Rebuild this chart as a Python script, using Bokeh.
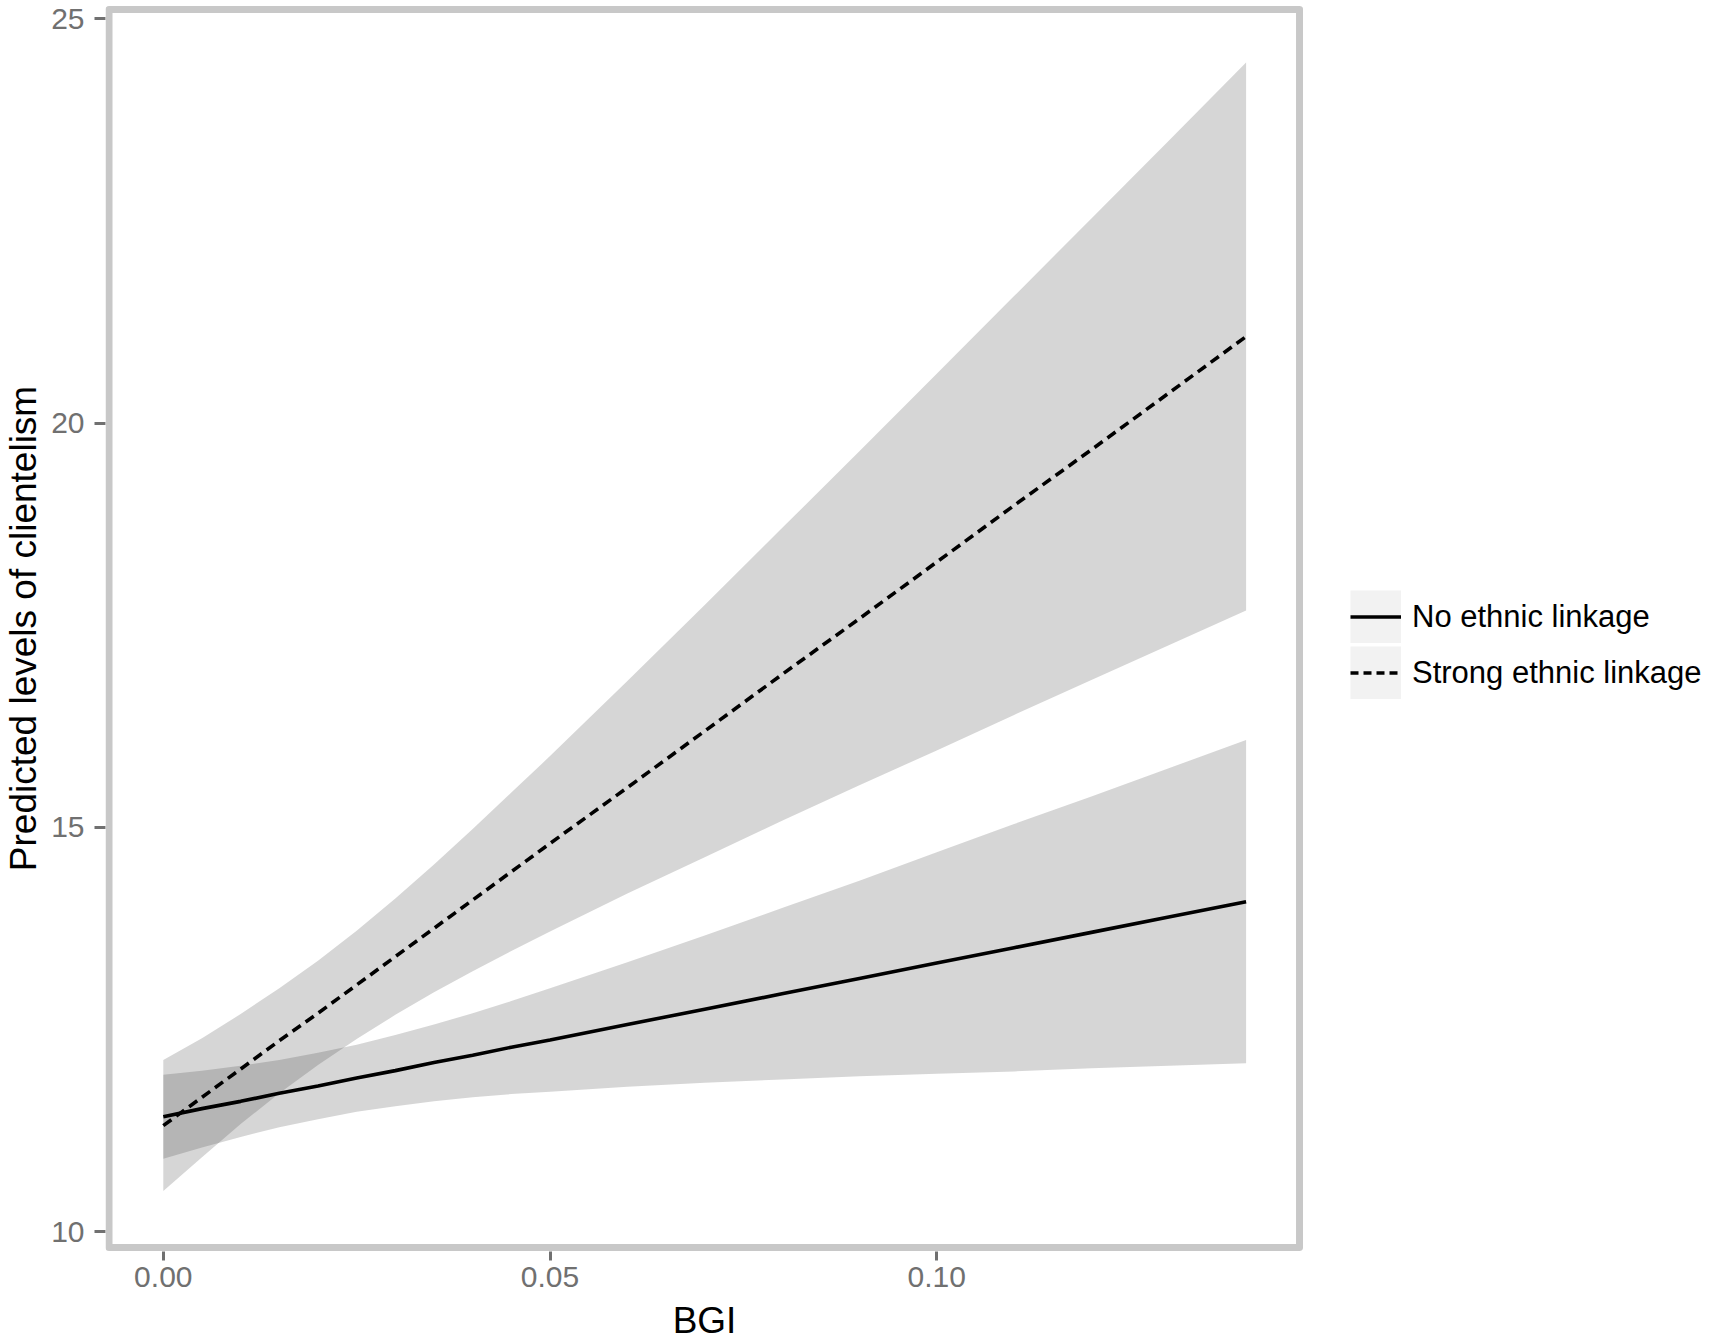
import numpy as np
from bokeh.plotting import figure
from bokeh.layouts import row
from bokeh.models import (Range1d, FixedTicker, NumeralTickFormatter, Legend,
                          LegendItem, ColumnDataSource, BoxAnnotation)
from bokeh.embed import file_html
from bokeh.resources import INLINE

# ---- data ----
bgi = [0.000, 0.005, 0.010, 0.015, 0.020, 0.025, 0.030, 0.035, 0.040, 0.045,
       0.050, 0.060, 0.070, 0.080, 0.090, 0.100, 0.110, 0.120, 0.130, 0.140]

none_fit = [11.42, 11.52, 11.61, 11.71, 11.80, 11.90, 11.99, 12.09, 12.18, 12.28,
            12.37, 12.56, 12.75, 12.94, 13.13, 13.32, 13.51, 13.70, 13.89, 14.08]
none_lo = [10.90, 11.04, 11.17, 11.29, 11.39, 11.48, 11.55, 11.61, 11.66, 11.70,
           11.73, 11.79, 11.84, 11.88, 11.92, 11.95, 11.98, 12.02, 12.05, 12.08]
none_hi = [11.94, 11.99, 12.05, 12.12, 12.21, 12.31, 12.43, 12.56, 12.70, 12.85,
           13.01, 13.33, 13.66, 14.00, 14.34, 14.69, 15.04, 15.38, 15.73, 16.08]

strong_fit = [11.31, 11.66, 12.01, 12.36, 12.70, 13.05, 13.40, 13.75, 14.10, 14.45,
              14.80, 15.49, 16.19, 16.89, 17.58, 18.28, 18.98, 19.67, 20.37, 21.07]
strong_lo = [10.50, 10.92, 11.33, 11.71, 12.06, 12.38, 12.68, 12.96, 13.22, 13.47,
             13.71, 14.18, 14.63, 15.08, 15.52, 15.95, 16.39, 16.82, 17.25, 17.68]
strong_hi = [12.12, 12.39, 12.69, 13.01, 13.35, 13.72, 14.12, 14.54, 14.98, 15.43,
             15.88, 16.81, 17.75, 18.70, 19.65, 20.61, 21.57, 22.53, 23.49, 24.46]

series_labels = ["No ethnic linkage", "Strong ethnic linkage"]
x_ticks = [0.00, 0.05, 0.10]
y_ticks = [10, 15, 20, 25]
x_title = "BGI"
y_title = "Predicted levels of clientelism"

# panel (ggplot-style expanded) limits, used for the panel border
panel_x = [-0.00702, 0.14691]
panel_y = [9.803, 25.115]

src = ColumnDataSource(dict(bgi=bgi, none_fit=none_fit, none_lo=none_lo, none_hi=none_hi,
                            strong_fit=strong_fit, strong_lo=strong_lo, strong_hi=strong_hi))

FONT = "Liberation Sans"
TICK_GREY = "#707070"
BORDER = "#c8c8c8"
W, H = 1712, 1343
W1 = 1303

# ---------------- main panel ----------------
p = figure(width=W1, height=H, output_backend="svg", toolbar_location=None,
           x_range=Range1d(-0.007474, 0.147423), y_range=Range1d(9.753, 25.164),
           min_border_left=101, min_border_right=0, min_border_top=5, min_border_bottom=89)
p.background_fill_color = "white"
p.border_fill_color = "white"
p.xgrid.visible = False
p.ygrid.visible = False
p.outline_line_color = None

# confidence ribbons
p.varea(x="bgi", y1="none_lo", y2="none_hi", source=src, fill_color="#333333", fill_alpha=0.2)
p.varea(x="bgi", y1="strong_lo", y2="strong_hi", source=src, fill_color="#333333", fill_alpha=0.2)

# fitted lines
p.line(x="bgi", y="none_fit", source=src, line_color="black", line_width=3.6)
p.line(x="bgi", y="strong_fit", source=src, line_color="black", line_width=3.6, line_dash="10 6")

# panel border
p.add_layout(BoxAnnotation(left=panel_x[0], right=panel_x[1], bottom=panel_y[0], top=panel_y[1],
                           fill_alpha=0, line_color=BORDER, line_alpha=1.0, line_width=7,
                           line_join="round", level="overlay"))

# axes
p.xaxis.ticker = FixedTicker(ticks=x_ticks)
p.xaxis.formatter = NumeralTickFormatter(format="0.00")
p.yaxis.ticker = FixedTicker(ticks=y_ticks)
p.xaxis.axis_label = x_title
p.yaxis.axis_label = y_title
for ax in (p.xaxis[0], p.yaxis[0]):
    ax.axis_line_color = None
    ax.major_tick_line_color = TICK_GREY
    ax.major_tick_line_width = 3
    ax.major_tick_in = 0
    ax.minor_tick_line_color = None
    ax.major_label_text_font = FONT
    ax.major_label_text_font_size = "30px"
    ax.major_label_text_color = TICK_GREY
    ax.axis_label_text_font = FONT
    ax.axis_label_text_font_size = "37px"
    ax.axis_label_text_font_style = "normal"
    ax.axis_label_text_color = "black"
p.xaxis.major_tick_out = 9
p.xaxis.major_label_standoff = 6
p.xaxis.axis_label_standoff = 10
p.yaxis.major_tick_out = 11
p.yaxis.major_label_standoff = 10
p.yaxis.axis_label_standoff = 4

# ---------------- legend area ----------------
q = figure(width=W - W1, height=H, output_backend="svg", toolbar_location=None,
           x_range=Range1d(0, 1), y_range=Range1d(0, 1),
           x_axis_location=None, y_axis_location=None,
           min_border_left=0, min_border_right=0, min_border_top=5, min_border_bottom=89)
q.xgrid.visible = False
q.ygrid.visible = False
q.outline_line_color = None
q.background_fill_color = "white"
q.border_fill_color = "white"

nan = np.array([np.nan])
bg1 = q.line(x=nan, y=nan, line_color="#f2f2f2", line_width=53, line_cap="butt")
bg2 = q.line(x=nan, y=nan, line_color="#f2f2f2", line_width=53, line_cap="butt")
k1 = q.line(x=nan, y=nan, line_color="black", line_width=3.4)
k2 = q.line(x=nan, y=nan, line_color="black", line_width=3.4, line_dash="8 5")

legend = Legend(items=[LegendItem(label=series_labels[0], renderers=[bg1, k1]),
                       LegendItem(label=series_labels[1], renderers=[bg2, k2])],
                location=(47, 552), glyph_width=51, glyph_height=53, spacing=3,
                padding=0, margin=0, label_standoff=11,
                label_text_font=FONT, label_text_font_size="31px", label_text_color="black",
                border_line_color=None, background_fill_alpha=0)
q.add_layout(legend, "center")

layout = row(p, q)
open("out.html", "w").write(file_html(layout, INLINE, title="Predicted levels of clientelism"))
